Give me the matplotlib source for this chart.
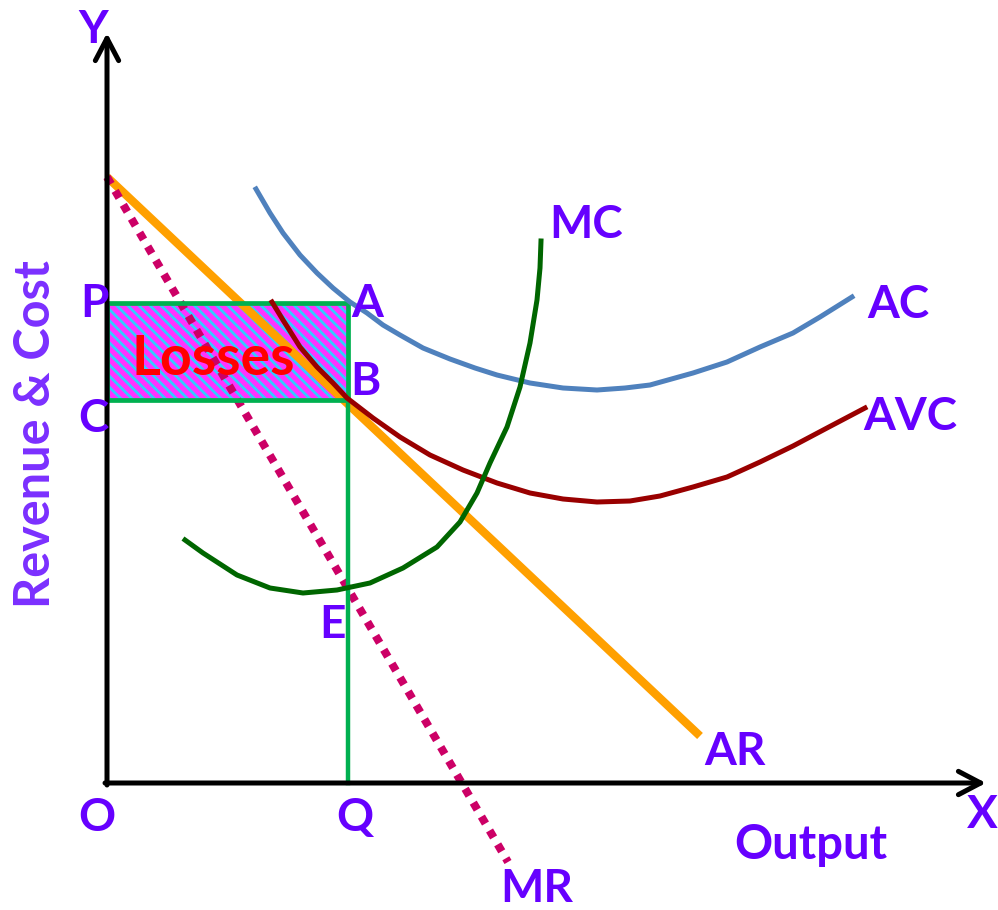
import matplotlib.pyplot as plt
from matplotlib.patches import Rectangle

plt.rcParams['font.family'] = ['Lato', 'DejaVu Sans']
plt.rcParams['hatch.linewidth'] = 2.0

# picture-space values (pixels, y grows downwards)
origin = (107, 783)
y_top = 33
x_right = 986

price_p = 303      # level P (A)
cost_c = 400       # level C (B)
output_q = 348     # Q

ar_x = [107, 700]
ar_y = [177, 736]
mr_x = [107, 508]
mr_y = [177, 862]

ac_x = [256, 270, 283, 300, 317, 333, 350, 367, 383, 400, 423, 450, 475,
        497, 530, 563, 597, 625, 650, 693, 727, 760, 793, 820, 852]
ac_y = [189, 213, 233, 255, 273, 288, 302, 313, 325, 335, 348, 359, 368,
        375, 383, 388, 390, 388, 385, 373, 362, 347, 333, 317, 297]

avc_x = [272, 283, 300, 317, 333, 347, 373, 400, 430, 463, 497, 530, 563,
         597, 630, 660, 693, 727, 760, 793, 827, 865]
avc_y = [302, 320, 347, 367, 383, 398, 418, 437, 455, 470, 483, 493, 499,
         502, 501, 496, 487, 477, 462, 446, 428, 408]

mc_x = [185, 203, 237, 270, 303, 337, 370, 403, 437, 460, 477, 490, 507,
        520, 530, 537, 540, 541]
mc_y = [540, 553, 575, 588, 593, 590, 583, 568, 547, 522, 493, 463, 427,
        387, 343, 300, 268, 241]

labels = [
    ("Y", 93, 43), ("X", 982, 828), ("O", 97, 831), ("Q", 355, 831),
    ("P", 94, 317), ("C", 93, 432), ("A", 367, 317), ("B", 365, 395),
    ("E", 333, 638), ("MC", 586, 238), ("AC", 898, 318), ("AVC", 910, 430),
    ("AR", 735, 765), ("MR", 537, 902), ("Output", 811, 859),
]

purple = "#6600FF"

fig = plt.figure(figsize=(9.98, 9.10), dpi=100)
ax = fig.add_axes([0, 0, 1, 1])
ax.set_xlim(0, 998)
ax.set_ylim(910, 0)
ax.axis("off")

# losses area
ax.add_patch(Rectangle((origin[0], price_p), output_q - origin[0], cost_c - price_p,
                       facecolor="#FF33FF", edgecolor="#33CCFF", hatch="\\\\\\",
                       linewidth=0, zorder=1))

ax.plot(ar_x, ar_y, color="#FFA000", linewidth=6, solid_capstyle="butt", zorder=3)
ax.plot(mr_x, mr_y, color="#CC0066", linewidth=5.8, linestyle=(0, (1, 1)),
        dash_capstyle="butt", zorder=3)

ax.add_patch(Rectangle((origin[0], price_p), output_q - origin[0], cost_c - price_p,
                       facecolor="none", edgecolor="#00B050", linewidth=3.4, zorder=4))
ax.plot([output_q, output_q], [cost_c, origin[1]], color="#00B050", linewidth=3.2, zorder=4)

ax.plot(ac_x, ac_y, color="#4F81BD", linewidth=3.6, zorder=5, solid_joinstyle="round")
ax.plot(avc_x, avc_y, color="#990000", linewidth=3.6, zorder=5, solid_joinstyle="round")
ax.plot(mc_x, mc_y, color="#006600", linewidth=3.6, zorder=5, solid_joinstyle="round")

# axes with open arrow heads
arrow = dict(arrowstyle="->,head_length=0.8,head_width=0.42", lw=3.6, color="black",
             mutation_scale=20, shrinkA=0, shrinkB=0, capstyle="round", joinstyle="round")
ax.annotate("", xy=(origin[0], y_top), xytext=(origin[0], origin[1] + 2),
            arrowprops=arrow, zorder=6)
ax.annotate("", xy=(x_right, origin[1]), xytext=(origin[0] - 2, origin[1]),
            arrowprops=arrow, zorder=6)

for text, x, y in labels:
    size = 34 if text == "Output" else 33
    ax.text(x, y, text, color=purple, fontsize=size, fontweight="bold",
            ha="center", va="baseline", zorder=7)

ax.text(50, 434, "Revenue & Cost", color="#7B2FFF", fontsize=35, fontweight="bold",
        rotation=90, rotation_mode="anchor", ha="center", va="baseline", zorder=7)
ax.text(213, 375, "Losses", color="#FF0000", fontsize=40, fontweight="bold",
        ha="center", va="baseline", zorder=7)

fig.savefig("out.png", dpi=100)
